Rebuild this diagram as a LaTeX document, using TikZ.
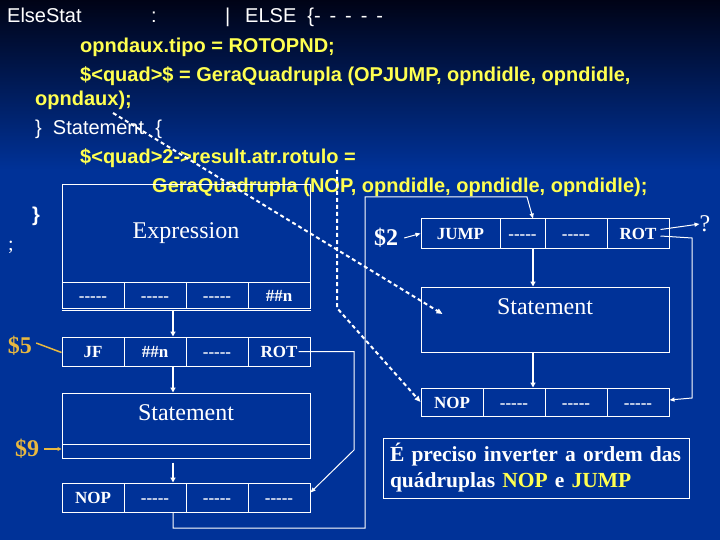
\documentclass[tikz,border=0pt]{standalone}
\usepackage{fontspec}
\setmainfont{Liberation Serif}
\newfontfamily\arialfont{Liberation Sans}
\usetikzlibrary{arrows.meta,positioning}
\definecolor{bgblue}{RGB}{0,50,152}
\definecolor{bgdark}{RGB}{0,3,22}
\definecolor{codeyellow}{RGB}{255,255,80}
\definecolor{dollarorange}{RGB}{232,184,64}
\newcommand\emptyop{-\kern0pt-\kern0pt-\kern0pt-\kern0pt-}
\tikzset{
  box/.style={draw=white, line width=1pt, inner sep=0pt},
  cell/.style={box, minimum width=62pt, minimum height=29pt, text=white,
    text height=12pt, text depth=0pt, font=\fontsize{17}{17}\selectfont\bfseries},
  bigtext/.style={text=white, inner sep=0pt, font=\fontsize{24}{24}\selectfont},
  code/.style={anchor=base west, inner sep=0pt, text=codeyellow,
    font=\arialfont\bfseries\fontsize{20}{20}\selectfont},
  plain/.style={anchor=base west, inner sep=0pt, text=white,
    font=\arialfont\fontsize{20}{20}\selectfont},
  flow/.style={white, line width=2pt, -{Triangle[length=5pt,width=5pt]}},
  thinflow/.style={white, line width=1pt, -{Triangle[length=5pt,width=4pt]}},
  dashflow/.style={white, line width=2pt, dash pattern=on 4pt off 3pt,
    -{Triangle[length=6pt,width=5pt]}},
  dollar/.style={text=dollarorange, inner sep=0pt, font=\fontsize{24}{24}\selectfont\bfseries},
}
\begin{document}
\begin{tikzpicture}[x=1pt,y=-1pt]
  \useasboundingbox (0,0) rectangle (720,540);
  \fill[bgblue] (0,0) rectangle (720,540);
  \shade[top color=bgdark, bottom color=bgblue] (0,0) rectangle (720,170);

  % grammar text
  \node[plain] (elsestat) at (7,23) {ElseStat};
  \node[plain] (colon) at (151,23) {:};
  \node[plain] (bar) at (225,23) {|};
  \node[plain] (elsekw) at (245,23) {ELSE \ \{- \,- \,- \,- \,-};
  \node[code] (line2) at (80,53) {opndaux.tipo = ROTOPND;};
  \node[code] (line3) at (80,82) {\$<quad>\$ = GeraQuadrupla (OPJUMP, opndidle, opndidle,};
  \node[code] (line4) at (35,106) {opndaux);};
  \node[plain] (line5) at (35,135) {\} \ Statement \ \{};
  \node[code] (line6) at (80,164) {\$<quad>2->result.atr.rotulo =};
  \node[code] (line7) at (152,193) {GeraQuadrupla (NOP, opndidle, opndidle, opndidle);};
  \node[plain, font=\arialfont\bfseries\fontsize{20}{20}\selectfont] (close) at (32,222) {\}};
  \node[anchor=base west, inner sep=0pt, text=white, font=\fontsize{20}{20}\selectfont] (semi) at (8,250) {;};

  % left column
  \node[box, minimum width=248pt, minimum height=97pt, bigtext] (expr) at (186,233.5) {Expression};
  \node[cell, minimum height=26pt] (a1) at (93,295) {\emptyop};
  \node[cell, minimum height=26pt] (a2) at (155,295) {\emptyop};
  \node[cell, minimum height=26pt] (a3) at (217,295) {\emptyop};
  \node[cell, minimum height=26pt] (a4) at (279,295) {\#\#n};
  \draw[white, line width=1pt] ([yshift=-2pt]a1.south west) -- ([yshift=-2pt]a4.south east);

  \node[cell] (b1) at (93,351.5) {JF};
  \node[cell] (b2) at (155,351.5) {\#\#n};
  \node[cell] (b3) at (217,351.5) {\emptyop};
  \node[cell] (b4) at (279,351.5) {ROT};

  \node[box, minimum width=248pt, minimum height=65pt] (stmtL) at (186,425.5) {};
  \node[bigtext, below=12pt of stmtL.north] (stmtLtext) {Statement};
  \draw[white, line width=1pt] ([yshift=14pt]stmtL.south west) -- ([yshift=14pt]stmtL.south east);

  \node[cell] (c1) at (93,497.5) {NOP};
  \node[cell] (c2) at (155,497.5) {\emptyop};
  \node[cell] (c3) at (217,497.5) {\emptyop};
  \node[cell] (c4) at (279,497.5) {\emptyop};

  % right column
  \node[cell, minimum width=79pt] (d1) at (460.5,233.5) {JUMP};
  \node[cell, minimum width=45pt] (d2) at (522.5,233.5) {\emptyop};
  \node[cell] (d3) at (576,233.5) {\emptyop};
  \node[cell] (d4) at (638,233.5) {ROT};

  \node[box, minimum width=248pt, minimum height=65pt] (stmtR) at (545,319.5) {};
  \node[bigtext, below=12pt of stmtR.north] (stmtRtext) {Statement};

  \node[cell, minimum height=28pt] (e1) at (452,402) {NOP};
  \node[cell, minimum height=28pt] (e2) at (514,402) {\emptyop};
  \node[cell, minimum height=28pt] (e3) at (576,402) {\emptyop};
  \node[cell, minimum height=28pt] (e4) at (638,402) {\emptyop};

  \node[box, minimum width=306pt, minimum height=60pt, text width=292pt, inner xsep=7pt,
    align=left, text=white, font=\fontsize{21.5}{26}\selectfont\bfseries] (note) at (536,468)
    {É preciso inverter a ordem das\\quádruplas \textcolor{codeyellow}{NOP} e \textcolor{codeyellow}{JUMP}};

  % labels
  \node[text=white, inner sep=0pt, font=\fontsize{24}{24}\selectfont\bfseries] (s2) at (386,238) {\$2};
  \node[dollar] (s5) at (20,346) {\$5};
  \node[dollar] (s9) at (27,449) {\$9};
  \node[text=white, inner sep=0pt, font=\fontsize{24}{24}\selectfont] (qmark) at (705,224) {?};

  % connectors
  \coordinate (axL) at (173,0);
  \coordinate (axR) at (533,0);
  \draw[flow] ([yshift=-2pt]axL |- a2.south) -- (axL |- b2.north);
  \draw[flow] (axL |- b2.south) -- (axL |- stmtL.north);
  \draw[flow] ([yshift=-4pt]axL |- stmtL.south) -- (axL |- c2.north);
  \draw[thinflow] (axL |- c2.south) -- (axL |- 0,528) -- (365,528) -- (365,197) -- (527,197) -- (axR |- d2.north);
  \draw[flow] (axR |- d2.south) -- (axR |- stmtR.north);
  \draw[flow] (axR |- stmtR.south) -- (axR |- e2.north);
  \draw[thinflow] ([xshift=-12pt]b4.east) -- (354,351.5) -- (354,450) -- ([yshift=5pt]c4.east);
  \draw[thinflow] ([xshift=-9pt,yshift=4pt]d4.east) -- (qmark.west);
  \draw[thinflow] ([xshift=-9pt,yshift=-2.5pt]d4.east) -- (692,238) -- (692,398) -- ([yshift=2pt]e4.east);
  \draw[thinflow] ([xshift=6pt]s2.east) -- (d1.west);
  \draw[dollarorange, line width=1.5pt] ([xshift=4pt,yshift=3pt]s5.east) -- ([yshift=-1pt]b1.west);
  \draw[dollarorange, line width=1.5pt, -{Triangle[length=4pt,width=4pt]}] ([xshift=5pt]s9.east) -- (stmtL.south west |- s9);
  \coordinate (dashA) at (113,113);
  \coordinate (dashB) at (337,170);
  \draw[dashflow] (dashA) -- ([xshift=22pt,yshift=5.5pt]stmtR.west);
  \draw[dashflow] (dashB) -- (337,308) -- (e1.west);
\end{tikzpicture}
\end{document}
